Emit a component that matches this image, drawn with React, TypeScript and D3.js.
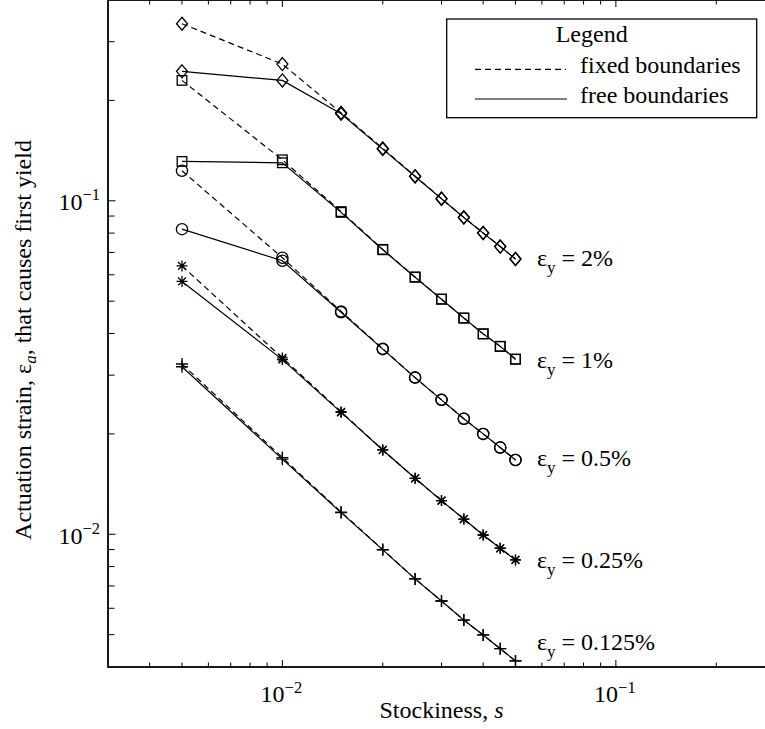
import React from "react";
import * as d3 from "d3";

// ---------- data ----------
const stockiness = [0.005, 0.01, 0.015, 0.02, 0.025, 0.03, 0.035, 0.04, 0.045, 0.05];
const yieldLabels = ["2%", "1%", "0.5%", "0.25%", "0.125%"];
const markerTypes = ["diamond", "square", "circle", "star", "plus"];

const free2 = [0.2444, 0.2296, 0.1824, 0.1429, 0.1183, 0.1014, 0.0891, 0.08, 0.0729, 0.0669];
const fixed2 = [0.3396, 0.257, 0.1835, 0.1436, 0.1185, 0.1015, 0.0892, 0.0801, 0.0729, 0.0669];
const free1 = [0.1312, 0.13, 0.0923, 0.0713, 0.059, 0.0507, 0.0445, 0.0399, 0.0366, 0.0335];
const fixed1 = [0.2296, 0.1327, 0.0928, 0.0715, 0.0591, 0.0507, 0.0445, 0.0399, 0.0366, 0.0335];
const free05 = [0.0822, 0.0661, 0.0463, 0.0359, 0.0295, 0.0253, 0.0222, 0.02, 0.0182, 0.0167];
const fixed05 = [0.123, 0.0675, 0.0466, 0.036, 0.0295, 0.0253, 0.0222, 0.02, 0.0182, 0.0167];
const free025 = [0.0573, 0.0334, 0.0232, 0.0179, 0.01472, 0.01262, 0.01111, 0.00995, 0.00908, 0.00838];
const fixed025 = [0.0638, 0.0338, 0.0233, 0.0179, 0.01472, 0.01262, 0.01111, 0.00995, 0.00908, 0.00838];
const free0125 = [0.0318, 0.0168, 0.01161, 0.00898, 0.00735, 0.00631, 0.00553, 0.00499, 0.00454, 0.00417];
const fixed0125 = [0.0324, 0.01698, 0.01166, 0.009, 0.00735, 0.00631, 0.00553, 0.00499, 0.00454, 0.00417];

const freeSeries = [free2, free1, free05, free025, free0125];
const fixedSeries = [fixed2, fixed1, fixed05, fixed025, fixed0125];

const xDomain = [0.003, 0.3];
const yDomain = [0.004, 0.4];

const legendTitle = "Legend";
const legendItems = ["fixed boundaries", "free boundaries"];
const xTitle = "Stockiness, ";
const yTitleParts = ["Actuation strain, ", ", that causes first yield"];

// ---------- layout ----------
const W = 765;
const H = 729;
const L = 108;
const R = 775;
const T = 0;
const B = 667;
const FONT = "'Liberation Serif', 'Times New Roman', Times, serif";
const labelOffsets = [7, 9, 6, 8, -11];
const DASH = "6,4";

function Marker({ type, cx, cy }: { type: string; cx: number; cy: number }) {
  const sw = 1.3;
  const common = { fill: "none", stroke: "#000", strokeWidth: sw };
  if (type === "diamond") {
    const h = 6.5, w = 5.5;
    return <path {...common} d={`M${cx},${cy - h}L${cx + w},${cy}L${cx},${cy + h}L${cx - w},${cy}Z`} />;
  }
  if (type === "square") {
    const s = 4.8;
    return <rect {...common} x={cx - s} y={cy - s} width={2 * s} height={2 * s} />;
  }
  if (type === "circle") {
    return <circle {...common} cx={cx} cy={cy} r={5.6} />;
  }
  if (type === "star") {
    const a = 5.5, b = 3.9;
    return (
      <path
        {...common}
        d={`M${cx - a},${cy}L${cx + a},${cy}M${cx},${cy - a}L${cx},${cy + a}M${cx - b},${cy - b}L${cx + b},${cy + b}M${cx - b},${cy + b}L${cx + b},${cy - b}`}
      />
    );
  }
  const p = 6;
  return <path {...common} d={`M${cx - p},${cy}L${cx + p},${cy}M${cx},${cy - p}L${cx},${cy + p}`} />;
}

function Pow({ x, y, exp, anchor, dySup }: { x: number; y: number; exp: number; anchor: string; dySup: number }) {
  return (
    <text x={x} y={y} textAnchor={anchor} fontFamily={FONT} fontSize={24} fill="#000">
      10
      <tspan dy={dySup} fontSize={16.5}>{"\u2212" + Math.abs(exp)}</tspan>
    </text>
  );
}

export default function App() {
  const x = d3.scaleLog().domain(xDomain).range([L, R]);
  const y = d3.scaleLog().domain(yDomain).range([B, T]);
  const line = d3
    .line<[number, number]>()
    .x((d) => x(d[0]))
    .y((d) => y(d[1]));

  const isMajor = (v: number) => Math.abs(Math.log10(v) - Math.round(Math.log10(v))) < 1e-9;
  const xTicks = x.ticks().filter((v) => v > xDomain[0] * 1.0001 && v < xDomain[1] * 0.9999);
  const yTicks = y.ticks().filter((v) => v > yDomain[0] * 1.0001 && v < yDomain[1] * 0.9999);

  const lastX = x(stockiness[stockiness.length - 1]);

  return (
    <svg
      width={W}
      height={H}
      style={{ position: "absolute", left: 0, top: 0, background: "#fff" }}
      xmlns="http://www.w3.org/2000/svg"
    >
      <rect x={0} y={0} width={W} height={H} fill="#fff" />

      {/* series */}
      {fixedSeries.map((vals, i) => (
        <path
          key={"fl" + i}
          d={line(stockiness.map((s, j) => [s, vals[j]] as [number, number])) || ""}
          fill="none"
          stroke="#000"
          strokeWidth={1.2}
          strokeDasharray={DASH}
        />
      ))}
      {freeSeries.map((vals, i) => (
        <path
          key={"fr" + i}
          d={line(stockiness.map((s, j) => [s, vals[j]] as [number, number])) || ""}
          fill="none"
          stroke="#000"
          strokeWidth={1.2}
        />
      ))}
      {fixedSeries.map((vals, i) =>
        vals.map((v, j) => <Marker key={`fm${i}-${j}`} type={markerTypes[i]} cx={x(stockiness[j])} cy={y(v)} />)
      )}
      {freeSeries.map((vals, i) =>
        vals.map((v, j) => <Marker key={`rm${i}-${j}`} type={markerTypes[i]} cx={x(stockiness[j])} cy={y(v)} />)
      )}

      {/* series labels */}
      {yieldLabels.map((lab, i) => {
        const vals = freeSeries[i];
        const yy = y(vals[vals.length - 1]) + labelOffsets[i];
        return (
          <text key={"lab" + i} x={lastX + 21.5} y={yy} fontFamily={FONT} fontSize={24} fill="#000">
            ε
            <tspan dy={7} fontSize={17}>y</tspan>
            <tspan dy={-7}>{" = " + lab}</tspan>
          </text>
        );
      })}

      {/* axes frame */}
      <rect x={L} y={T} width={R - L} height={B - T} fill="none" stroke="#000" strokeWidth={1.8} />

      {/* x ticks (bottom & top) */}
      {xTicks.map((v, i) => {
        const len = isMajor(v) ? 7 : 4.5;
        const xx = x(v);
        return (
          <g key={"xt" + i}>
            <line x1={xx} x2={xx} y1={B} y2={B - len} stroke="#000" strokeWidth={1} />
            <line x1={xx} x2={xx} y1={T} y2={T + len} stroke="#000" strokeWidth={1} />
          </g>
        );
      })}
      {/* y ticks (left & right) */}
      {yTicks.map((v, i) => {
        const len = isMajor(v) ? 7.5 : 6.5;
        const yy = y(v);
        return (
          <g key={"yt" + i}>
            <line x1={L} x2={L + len} y1={yy} y2={yy} stroke="#000" strokeWidth={1} />
            <line x1={R} x2={R - len} y1={yy} y2={yy} stroke="#000" strokeWidth={1} />
          </g>
        );
      })}

      {/* tick labels */}
      {xTicks.filter(isMajor).map((v, i) => (
        <Pow key={"xl" + i} x={x(v) - 1} y={B + 34.5} exp={Math.round(Math.log10(v))} anchor="middle" dySup={-9} />
      ))}
      {yTicks.filter(isMajor).map((v, i) => (
        <Pow key={"yl" + i} x={100} y={y(v) + 9.5} exp={Math.round(Math.log10(v))} anchor="end" dySup={-10} />
      ))}

      {/* axis titles */}
      <text x={(L + R) / 2} y={718} textAnchor="middle" fontFamily={FONT} fontSize={24} fill="#000">
        {xTitle}
        <tspan fontStyle="italic">s</tspan>
      </text>
      <text
        transform={`translate(31,${340}) rotate(-90)`}
        textAnchor="middle"
        fontFamily={FONT}
        fontSize={24}
        fill="#000"
      >
        {yTitleParts[0]}ε
        <tspan dy={5} fontSize={17} fontStyle="italic">a</tspan>
        <tspan dy={-5}>{yTitleParts[1]}</tspan>
      </text>

      {/* legend */}
      <rect x={446.7} y={19} width={310} height={98.7} fill="#fff" stroke="#000" strokeWidth={1.3} />
      <text x={591.7} y={41.7} textAnchor="middle" fontFamily={FONT} fontSize={24} fill="#000">
        {legendTitle}
      </text>
      <line x1={475} x2={566} y1={69.3} y2={69.3} stroke="#000" strokeWidth={1.2} strokeDasharray={DASH} />
      <line x1={475} x2={567} y1={99} y2={99} stroke="#000" strokeWidth={1.2} />
      <text x={580} y={72.7} fontFamily={FONT} fontSize={24} fill="#000">
        {legendItems[0]}
      </text>
      <text x={580} y={103.3} fontFamily={FONT} fontSize={24} fill="#000">
        {legendItems[1]}
      </text>
    </svg>
  );
}
